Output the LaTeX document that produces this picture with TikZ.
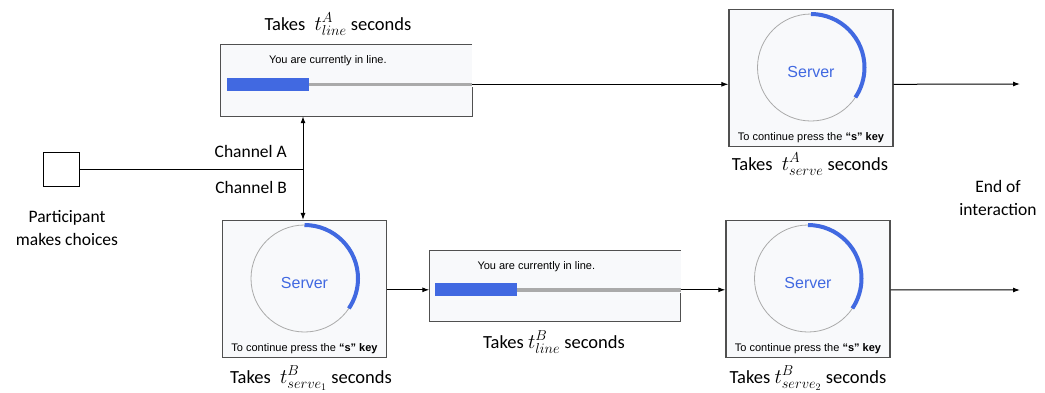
\documentclass[tikz,border=0pt]{standalone}
\usepackage{fontspec}
\setmainfont{Carlito}
\newfontfamily\uifont{Liberation Sans}
\usetikzlibrary{arrows.meta,calc}
\DeclareMathSizes{18.5}{20.74}{14.4}{10}

\definecolor{uiblue}{RGB}{65,105,225}
\definecolor{panelbg}{RGB}{248,249,251}
\definecolor{paneledge}{RGB}{80,80,80}
\definecolor{trackgray}{RGB}{170,170,170}

\tikzset{
  panel/.style={fill=panelbg, draw=paneledge, line width=1.2pt, inner sep=0pt,
    minimum width=164pt, minimum height=137pt},
  linepanel/.style={fill=panelbg, inner sep=0pt, minimum width=251pt, minimum height=71pt},
  paneledge/.style={draw=paneledge, line width=1.2pt},
  ring/.style={draw=trackgray, line width=0.8pt},
  progress/.style={draw=uiblue, line width=4pt},
  track/.style={draw=trackgray, line width=3.5pt},
  barfill/.style={fill=uiblue},
  servertext/.style={font=\uifont\fontsize{16}{18}\selectfont, text=uiblue, inner sep=0pt},
  hinttext/.style={font=\uifont\fontsize{11}{12}\selectfont, inner sep=0pt, anchor=base},
  queuetext/.style={font=\uifont\fontsize{11}{13}\selectfont, inner sep=0pt, anchor=base west},
  caption/.style={font=\fontsize{17.5}{23}\selectfont, inner sep=0pt, anchor=base, align=center},
  timing/.style={font=\fontsize{18.5}{23}\selectfont, inner sep=0pt, anchor=base},
  flow/.style={line width=1pt, -{Latex[length=7pt,width=5pt]}},
  wire/.style={line width=1pt},
  person/.style={draw, line width=1pt, minimum width=36pt, minimum height=34pt, inner sep=0pt}
}

% Server panel: progress ring, label and key hint
\newcommand\ServerPanel[2]{%
  \node[panel] (#1) at (#2) {};
  \coordinate (#1-c) at ([yshift=10.5pt]#1.center);
  \draw[ring] (#1-c) circle[radius=53.5pt];
  \draw[progress] ([shift={(90:53.5pt)}]#1-c) arc[start angle=90, end angle=-34, radius=53.5pt];
  \node[servertext] (#1-t) at ([yshift=-4.5pt]#1-c) {Server};
  \node[hinttext] (#1-h) at ([yshift=7pt]#1.south) {To continue press the \textbf{“s” key}};
}

% Waiting-line panel: message, progress bar and grey track
\newcommand\LinePanel[2]{%
  \node[linepanel] (#1) at (#2) {};
  \node[queuetext] (#1-msg) at ([xshift=48pt,yshift=-19pt]#1.north west) {You are currently in line.};
  \coordinate (#1-bl) at ([xshift=6pt,yshift=-33pt]#1.north west);
  \coordinate (#1-bar) at ([yshift=-6.5pt]#1-bl -| #1.east);
  \draw[track] ([xshift=80pt,yshift=-6.5pt]#1-bl) -- (#1-bar);
  \fill[barfill] (#1-bl) rectangle ([xshift=82pt,yshift=-13pt]#1-bl);
  \draw[paneledge] (#1.north east) -- (#1.north west) -- (#1.south west)
    -- (#1.south east) -- ([yshift=-3pt]#1-bar);
}

\begin{document}
\begin{tikzpicture}[x=1pt,y=-1pt]
\useasboundingbox (0,0) rectangle (1045,392);

% participant
\node[person] (p) at (61.5,169) {};
\node[caption] (pl) at (67,245) {Participant\\makes choices};

% channel A
\LinePanel{lineA}{346.5,80.5}
\ServerPanel{serveA}{811,78}
\node[timing] (capLA) at (338,30) {Takes\enspace\(t^{A}_{line}\) seconds};
\node[timing] (capSA) at (810,170) {Takes\enspace\(t^{A}_{serve}\) seconds};

% channel B
\ServerPanel{serveB}{304.5,289}
\LinePanel{lineB}{555,286}
\ServerPanel{serveC}{808,289}
\node[timing] (capSB) at (311,383) {Takes\enspace\(t^{B}_{serve_1}\) seconds};
\node[timing] (capLB) at (554,348) {Takes \(t^{B}_{line}\) seconds};
\node[timing] (capSC) at (808,383) {Takes \(t^{B}_{serve_2}\) seconds};

\node[caption] (endl) at (998,215) {End of\\interaction};

% routing of the choice
\coordinate (jn) at (303,169);
\draw[wire] (p.east) -- (jn);
\draw[flow] (jn) -- (jn |- lineA.south);
\draw[flow] (jn) -- (jn |- serveB.north);
\node[caption, anchor=base east] (chA) at (287,157) {Channel A};
\node[caption, anchor=base east] (chB) at (287,193) {Channel B};

% channel A flow
\coordinate (endA) at (1020,84);
\draw[flow] (lineA-bar) -- (lineA-bar -| serveA.west);
\draw[flow] (serveA.east |- lineA-bar) -- (endA);

% channel B flow
\coordinate (endB) at (1020,290);
\draw[flow] (serveB.east |- lineB-bar) -- (lineB-bar -| lineB.west);
\draw[flow] (lineB-bar) -- (lineB-bar -| serveC.west);
\draw[flow] (serveC.east |- lineB-bar) -- (endB);
\end{tikzpicture}
\end{document}
